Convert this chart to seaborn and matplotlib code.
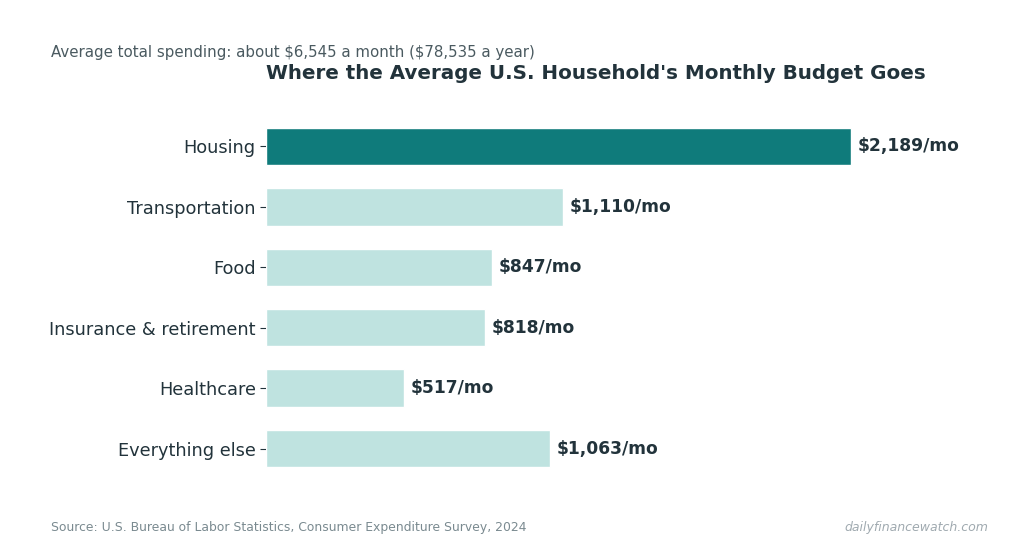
import matplotlib
matplotlib.use("Agg")
import matplotlib.pyplot as plt
import seaborn as sns
import pandas as pd

categories = ["Housing", "Transportation", "Food", "Insurance & retirement", "Healthcare", "Everything else"]
values = [2189, 1110, 847, 818, 517, 1063]
labels = ["\\$2,189/mo", "\\$1,110/mo", "\\$847/mo", "\\$818/mo", "\\$517/mo", "\\$1,063/mo"]

sns.set_style("white")
plt.rcParams['font.family'] = ['DejaVu Sans']
df = pd.DataFrame({"cat": categories, "val": values})
palette = ["#0f7b7b"] + ["#bfe3e0"] * 5

fig = plt.figure(figsize=(10.24, 5.51), dpi=100)
ax = fig.add_axes([0.26, 0.131, 0.678, 0.658])
sns.barplot(data=df, y="cat", x="val", hue="cat", palette=palette, legend=False,
            width=0.62, ax=ax, orient="h", saturation=1)
ax.set_xlim(0, 2601)
ax.set_ylim(5.5, -0.5)
for i, (v, l) in enumerate(zip(values, labels)):
    ax.text(v + 25, i, l, va="center", ha="left", fontsize=12.3, fontweight="bold", color="#22333b")
ax.set_xlabel(""); ax.set_ylabel("")
ax.set_xticks([])
ax.tick_params(axis="y", labelsize=12.8, colors="#22333b", length=4, left=True)
for s in ax.spines.values():
    s.set_visible(False)
ax.set_title("Where the Average U.S. Household's Monthly Budget Goes", loc="left",
             fontsize=14.3, fontweight="bold", color="#22333b", pad=27)
fig.text(51/1024, 1-52/551, "Average total spending: about \\$6,545 a month (\\$78,535 a year)",
         fontsize=10.8, color="#4a5a60", va="center")
fig.text(51/1024, 1-527/551, "Source: U.S. Bureau of Labor Statistics, Consumer Expenditure Survey, 2024",
         fontsize=8.9, color="#7a8a90", va="center")
fig.text(988/1024, 1-527/551, "dailyfinancewatch.com", fontsize=9, color="#a0aab0",
         style="italic", va="center", ha="right")
fig.savefig("out.png", dpi=100)
